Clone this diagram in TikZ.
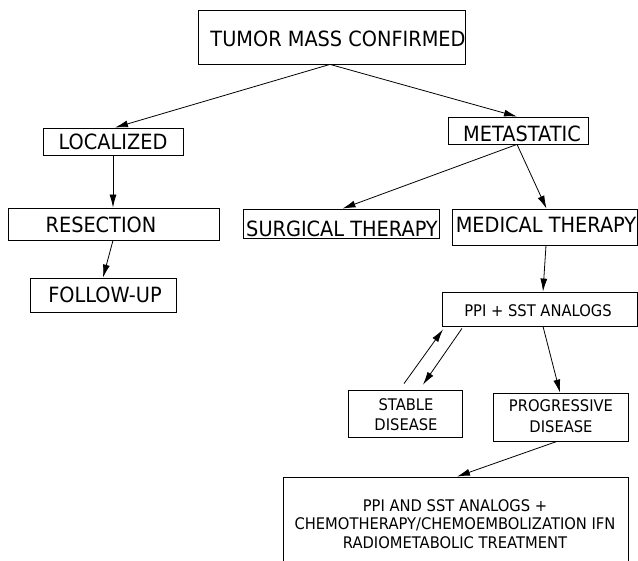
\documentclass[tikz,border=0pt]{standalone}
\usepackage{fontspec}
\setmainfont{DejaVu Sans}[FakeStretch=0.92]
\usetikzlibrary{arrows.meta,calc}
\begin{document}
\begin{tikzpicture}[x=1pt,y=-1pt,
 box/.style={draw, line width=0.8pt, inner sep=0pt, rectangle},
 big/.style={font=\fontsize{21}{25}\selectfont, inner sep=0pt, anchor=base},
 smallbase/.style={font=\fontsize{16}{19}\selectfont, inner sep=0pt, anchor=base},
 small/.style={font=\fontsize{16}{19}\selectfont, inner sep=0pt, align=center},
 arr/.style={-{Latex[length=13pt,width=7pt]}, line width=0.8pt}]
\useasboundingbox[fill=white] (0,0) rectangle (638,561);
% boxes
\node[box, minimum width=267pt, minimum height=54pt] (top) at (331.5,37) {};
\node[box, minimum width=140pt, minimum height=27pt] (loc) at (113,141.5) {};
\node[box, minimum width=211pt, minimum height=32pt] (res) at (113.5,224) {};
\node[box, minimum width=146pt, minimum height=34pt] (fol) at (103,295) {};
\node[box, minimum width=140pt, minimum height=27pt] (met) at (518,130.5) {};
\node[box, minimum width=196pt, minimum height=29pt] (sur) at (341,223.5) {};
\node[box, minimum width=185.5pt, minimum height=36pt] (med) at (544.75,227) {};
\node[box, minimum width=195pt, minimum height=34pt] (ppi) at (539.5,309) {};
\node[box, minimum width=114pt, minimum height=47pt] (sta) at (405,413.5) {};
\node[box, minimum width=135pt, minimum height=48pt] (pro) at (560.5,417) {};
\node[box, minimum width=345pt, minimum height=103pt] (bot) at (455.5,528.5) {};
% texts
\node[big] (ttop) at (338,47) {TUMOR MASS CONFIRMED};
\node[big] (tloc) at (113,150) {LOCALIZED};
\node[big] (tres) at (101,233) {RESECTION};
\node[big] (tfol) at (105,303) {FOLLOW-UP};
\node[big] (tmet) at (522,142) {METASTATIC};
\node[big] (tsur) at (342,237) {SURGICAL THERAPY};
\node[big] (tmed) at (546,233) {MEDICAL THERAPY};
\node[smallbase] (tppi) at (538,317) {PPI + SST ANALOGS};
\node[small, font=\fontsize{16}{20}\selectfont] (tsta) at (406,414.5) {STABLE\\DISEASE};
\node[small, font=\fontsize{16}{21}\selectfont] (tpro) at (561,416) {PROGRESSIVE\\DISEASE};
\node[small, font=\fontsize{16}{18.5}\selectfont] (tbot) at (455,524) {PPI AND SST ANALOGS +\\CHEMOTHERAPY/CHEMOEMBOLIZATION IFN\\RADIOMETABOLIC TREATMENT};
% connectors
\draw[arr] ([xshift=-1.5pt]top.south) -- ([xshift=2pt]loc.north);
\draw[arr] ([xshift=-1.5pt]top.south) -- ([xshift=-1pt]met.north);
\draw[arr] (loc.south) -- (loc.south |- res.north);
\draw[arr] ([xshift=-0.5pt]res.south) -- (fol.north);
\draw[arr] ([xshift=-1pt]met.south) -- ([xshift=1.5pt]sur.north);
\draw[arr] ([xshift=-1pt]met.south) -- ([xshift=1.75pt]med.north);
\draw[arr] ([xshift=1.25pt]med.south) -- ([xshift=3.5pt]ppi.north);
\draw[arr] ([xshift=-1pt,yshift=6pt]sta.north) -- ([xshift=-96.5pt,yshift=-3pt]ppi.south);
\draw[arr] ([xshift=-77.5pt,yshift=-2pt]ppi.south) -- ([xshift=18pt,yshift=5pt]sta.north);
\draw[arr] ([xshift=3.5pt]ppi.south) -- ([xshift=-0.5pt]pro.north);
\draw[arr] ([xshift=-3.5pt]pro.south) -- ([xshift=1.5pt]bot.north);
\end{tikzpicture}
\end{document}
